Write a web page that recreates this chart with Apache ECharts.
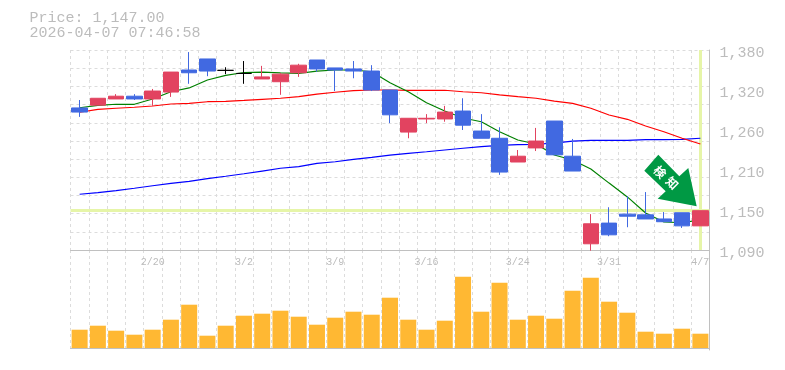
<!DOCTYPE html>
<html>
<head>
<meta charset="utf-8">
<style>
  html, body { margin: 0; padding: 0; background: #fff; }
  #chart { width: 785px; height: 370px; }
</style>
<script src="https://cdn.jsdelivr.net/npm/echarts@6/dist/echarts.min.js"></script>
</head>
<body>
<div id="chart"></div>
<script>
const dates = ["2/16","2/17","2/18","2/19","2/20","2/24","2/25","2/26","2/27","3/2","3/3","3/4","3/5","3/6","3/9","3/10","3/11","3/12","3/13","3/16","3/17","3/18","3/19","3/23","3/24","3/25","3/26","3/27","3/30","3/31","4/1","4/2","4/3","4/6","4/7"];
const opens = [1296,1300,1309,1313,1309,1319,1351,1367,1350.5,1346,1338,1334,1347,1365.5,1354,1352.5,1349.5,1322,1261,1280,1280,1291.5,1262.5,1252,1217.6,1238,1277,1226,1099,1129,1142,1141,1135,1144,1125];
const closes = [1290,1310,1313,1309,1320.5,1348,1347,1349.5,1350.5,1346,1341,1345,1358,1352.5,1351,1349.5,1322,1286,1281,1281,1290,1271,1252,1203,1226,1248,1228,1204.5,1128,1112,1139,1135,1131,1125,1147];
const lows = [1283,1300,1309,1307.5,1299,1312,1331,1342,1345,1331,1338,1315,1341,1348.5,1320.5,1339,1320.5,1274,1252,1274,1276,1264,1252,1199,1217.6,1233.5,1228,1204.5,1089,1110,1123,1135,1131,1122,1125];
const highs = [1307.5,1310,1316,1316,1323.5,1348,1377,1367,1355,1364,1357,1346.5,1360,1365.5,1354,1364,1358,1322,1281,1287,1299,1310,1287,1268,1235,1267,1277,1251,1142,1152,1168,1174,1145,1144,1147];
const dojiDays = [8, 9];

const maShort = [1296.3,1299.8,1301.3,1301.3,1309,1319.5,1325,1336.5,1343.3,1347.4,1348,1346.7,1346,1349.5,1351,1351,1348.5,1332.6,1319.5,1303.6,1291.5,1281.4,1276,1261.5,1249.5,1243.7,1227.8,1220.5,1207.5,1187,1167,1143.6,1130.6,1129.6,1133.5];
const maMid = [1289.7,1294,1295.5,1297,1298.8,1301.7,1302.7,1305,1305.6,1307,1308.5,1310,1312.3,1316,1318.7,1321,1322,1322,1321.6,1321.6,1321.6,1319.5,1318,1314.8,1312.3,1310,1306,1302.7,1295.5,1285.8,1279.5,1269.8,1261.5,1252,1243.7];
const maLong = [1170.8,1173.1,1176,1179.5,1183.2,1186.7,1189.6,1193.4,1196.9,1200.6,1204.5,1208.5,1210.8,1215.7,1218,1221.5,1224.4,1227.7,1230.2,1232.5,1235,1237.5,1239.8,1241.8,1242.7,1243.3,1245.1,1248,1249.1,1249.1,1249.1,1250,1250,1250.5,1252];
const volumes = [18300,22300,17300,13300,18300,28300,43300,12300,22300,32300,34300,37300,31300,23300,30300,36300,33300,50300,28300,18300,27300,71300,36300,65300,28300,32300,29300,57300,70300,46300,35300,16300,14300,19300,14300];

const priceTicks = [1090,1148,1206,1264,1322,1380];
const lastPrice = 1147;
const stamp = "2026-04-07 07:46:58";
const gridLevels = [1090,1116.4,1142.7,1169.1,1195.5,1221.8,1248.2,1274.5,1300.9,1327.3,1353.6,1380];

const monoFont = "'Liberation Mono', monospace";
const gridLine = { show: true, lineStyle: { color: "#dcdcdc", type: [3, 3], width: 1 } };
const edgeLine = { show: true, lineStyle: { color: "#c0c0c0", width: 1 } };

const chart = echarts.init(document.getElementById("chart"), null, { renderer: "canvas" });

chart.setOption({
  animation: false,
  backgroundColor: "#fff",
  title: {
    left: 29.5,
    top: 11,
    padding: 0,
    text: "Price: " + lastPrice.toLocaleString("en-US", { minimumFractionDigits: 2 }) + "\n" + stamp,
    textStyle: { color: "#bcbcbc", fontFamily: monoFont, fontSize: 15, fontWeight: "normal", lineHeight: 15 },
  },
  grid: [
    { left: 70.5, right: 75.5, top: 50, height: 200 },
    { left: 70.5, right: 75.5, top: 250, height: 100 },
  ],
  xAxis: [
    {
      type: "category",
      gridIndex: 0,
      data: dates,
      axisLine: edgeLine,
      axisTick: { show: false },
      splitLine: { ...gridLine, interval: 0 },
      axisLabel: {
        interval: (i) => i % 5 === 4,
        color: "#bcbcbc",
        fontFamily: monoFont,
        fontSize: 10,
        margin: 7,
      },
    },
    {
      type: "category",
      gridIndex: 1,
      data: dates,
      axisLine: edgeLine,
      axisTick: { show: false },
      axisLabel: { show: false },
      splitLine: { ...gridLine, interval: 0 },
    },
  ],
  yAxis: [
    {
      type: "value",
      gridIndex: 0,
      position: "right",
      min: 1090,
      max: 1380,
      axisLine: edgeLine,
      axisTick: { show: false, customValues: gridLevels },
      splitLine: gridLine,
      axisLabel: {
        customValues: priceTicks,
        formatter: (v) => (Math.round(v / 10) * 10).toLocaleString("en-US"),
        color: "#bcbcbc",
        fontFamily: monoFont,
        fontSize: 15,
        margin: 10,
        verticalAlign: "top",
        lineHeight: 7,
      },
    },
    {
      type: "value",
      gridIndex: 1,
      position: "right",
      min: -2000,
      max: 98000,
      axisLine: edgeLine,
      axisTick: { show: false },
      axisLabel: { show: false },
      splitLine: { show: false },
    },
  ],
  series: [
    {
      type: "line",
      name: "maLong",
      data: maLong,
      z: 3,
      symbol: "none",
      lineStyle: { color: "#0000ff", width: 1.2 },
    },
    {
      type: "line",
      name: "maMid",
      data: maMid,
      z: 3,
      symbol: "none",
      lineStyle: { color: "#ff0000", width: 1.2 },
    },
    {
      type: "line",
      name: "maShort",
      data: maShort,
      z: 3,
      symbol: "none",
      lineStyle: { color: "#008000", width: 1.2 },
      markLine: {
        silent: true,
        z: 1,
        symbol: "none",
        label: { show: false },
        lineStyle: { color: "#e6f5a8", width: 3, type: "solid" },
        data: [{ yAxis: lastPrice }, { xAxis: dates[dates.length - 1] }],
      },
    },
    {
      type: "candlestick",
      name: "price",
      z: 5,
      barWidth: 16,
      itemStyle: { color: "#e24360", color0: "#4169e1", borderColor: "#e24360", borderColor0: "#4169e1", borderWidth: 1 },
      data: dates.map((d, i) => {
        const row = { value: [opens[i], closes[i], lows[i], highs[i]] };
        if (dojiDays.includes(i)) {
          row.itemStyle = { color: "#000", color0: "#000", borderColor: "#000", borderColor0: "#000", borderColorDoji: "#000" };
        }
        return row;
      }),
    },
    {
      type: "bar",
      name: "volume",
      xAxisIndex: 1,
      yAxisIndex: 1,
      barWidth: 16,
      itemStyle: { color: "#ffb833" },
      data: volumes,
    },
  ],
  graphic: [
    {
      type: "polygon",
      z: 20,
      shape: { points: [[658.3,154.7],[644.3,170.7],[665.7,191.3],[657.7,198.7],[696.7,206.3],[688.3,168],[679.3,176.3]] },
      style: { fill: "#009944" },
    },
    {
      type: "text", z: 21, x: 660, y: 172, rotation: -Math.PI / 4,
      style: { text: "検", fill: "#fff", font: "bold 12px 'Noto Sans CJK JP'", textAlign: "center", textVerticalAlign: "middle" },
    },
    {
      type: "text", z: 21, x: 672.3, y: 183, rotation: -Math.PI / 4,
      style: { text: "知", fill: "#fff", font: "bold 12px 'Noto Sans CJK JP'", textAlign: "center", textVerticalAlign: "middle" },
    },
  ],
});

window.addEventListener("resize", chart.resize);
</script>
</body>
</html>
